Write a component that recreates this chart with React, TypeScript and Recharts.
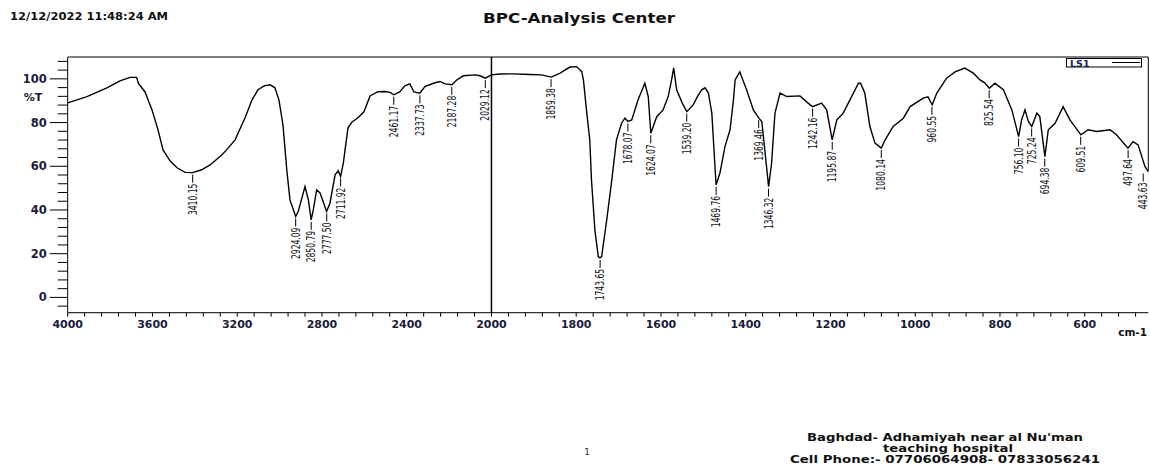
import React from 'react';
import { LineChart, Line, XAxis, YAxis, ReferenceLine, ReferenceDot } from 'recharts';

// ---- spectrum data (wavenumber cm-1, %T) ----
const wavenumbers = [
  4000, 3909, 3815, 3753, 3706, 3675, 3666, 3635, 3602, 3574, 3550, 3517, 3484, 3446, 3410, 3368, 3328, 3273, 3250,
  3210, 3163, 3130, 3102, 3073, 3045, 3022, 3003, 2984, 2974, 2966, 2951, 2924, 2912, 2880, 2864, 2851, 2841, 2825,
  2809, 2778, 2762, 2738, 2723, 2712, 2699, 2691, 2677, 2658, 2630, 2602, 2573, 2536, 2502, 2479, 2461, 2433, 2409,
  2385, 2366, 2338, 2314, 2274, 2243, 2219, 2187, 2164, 2133, 2078, 2054, 2029, 2000, 1980, 1949, 1909, 1882, 1859,
  1838, 1815, 1799, 1787, 1783, 1775, 1768, 1764, 1756, 1748, 1744, 1740, 1728, 1716, 1705, 1693, 1685, 1678, 1669,
  1654, 1638, 1630, 1624, 1610, 1595, 1583, 1575, 1570, 1563, 1550, 1539, 1524, 1513, 1504, 1496, 1488, 1480, 1473,
  1470, 1461, 1449, 1437, 1429, 1425, 1414, 1398, 1382, 1369, 1362, 1355, 1346, 1339, 1331, 1319, 1303, 1272, 1248,
  1242, 1221, 1209, 1196, 1185, 1170, 1154, 1134, 1129, 1119, 1107, 1095, 1080, 1071, 1052, 1028, 1012, 981, 970,
  960, 949, 926, 906, 883, 863, 847, 836, 825, 812, 792, 772, 756, 749, 741, 733, 725, 713, 706, 694, 686, 670, 651,
  635, 609, 592, 572, 540, 525, 498, 486, 474, 458, 450,
];
const transmittance = [
  89.0, 91.9, 95.9, 99.1, 100.7, 100.7, 97.9, 94.0, 85.8, 76.7, 67.5, 62.5, 59.3, 57.2, 57.1, 58.4, 60.6, 65.2, 67.5,
  72.1, 82.2, 90.4, 95.0, 96.8, 97.3, 95.9, 90.4, 78.9, 67.5, 58.4, 44.6, 37.0, 39.3, 50.7, 44.6, 35.5, 40.0, 49.2,
  47.8, 39.3, 43.2, 56.1, 58.0, 55.3, 61.6, 67.5, 77.6, 80.3, 82.2, 84.9, 92.2, 94.1, 94.2, 93.8, 92.7, 94.0, 96.8,
  97.7, 94.0, 93.4, 96.5, 98.0, 98.8, 97.7, 97.3, 99.5, 101.4, 101.8, 101.4, 100.3, 101.8, 102.2, 102.3, 102.0, 101.8, 100.8,
  102.6, 105.4, 105.6, 103.3, 99.5, 84.3, 72.1, 53.8, 30.9, 18.7, 18.1, 18.7, 35.5, 53.8, 72.1, 79.7, 82.0, 80.5, 81.2,
  90.4, 98.0, 91.9, 75.1, 82.7, 85.8, 91.9, 99.5, 105.0, 95.0, 89.0, 85.0, 88.1, 92.2, 95.0, 95.9, 93.5, 84.3, 61.4,
  51.5, 56.8, 69.0, 76.7, 90.4, 99.5, 103.2, 95.0, 85.8, 82.0, 80.5, 67.5, 50.7, 61.4, 84.3, 93.5, 91.9, 92.2, 88.1,
  87.3, 88.9, 85.8, 72.1, 81.2, 84.3, 90.4, 98.0, 98.0, 93.5, 78.2, 70.6, 68.3, 72.1, 78.2, 82.0, 87.3, 91.2, 91.8,
  88.1, 93.5, 100.3, 103.2, 104.9, 102.6, 99.5, 98.2, 95.7, 98.0, 95.0, 85.8, 73.6, 81.2, 85.8, 80.5, 78.2, 84.3, 82.7, 64.4, 76.7, 79.7, 87.3,
  81.2, 74.4, 76.7, 75.9, 76.7, 74.4, 68.3, 71.3, 69.8, 59.9, 57.6,
];

// ---- peak annotations ----
const peakWavenumbers = [
  3410.15, 2924.09, 2850.79, 2777.5, 2711.92, 2461.17, 2337.73, 2187.28, 2029.12, 1859.38, 1743.65, 1678.07, 1624.07,
  1539.2, 1469.76, 1369.46, 1346.32, 1242.16, 1195.87, 1080.14, 960.55, 825.54, 756.1, 725.24, 694.38, 609.51, 497.64,
  443.63,
];
const peakTransmittance = [
  57.1, 37.0, 35.5, 39.3, 55.3, 92.7, 93.4, 97.3, 100.3, 100.8, 18.1, 80.5, 75.1, 85.0, 51.5, 82.0, 50.7, 87.3, 72.1,
  68.3, 88.1, 95.7, 73.6, 78.2, 64.4, 74.4, 68.3, 57.6,
];
const peakLabels = [
  '3410.15', '2924.09', '2850.79', '2777.50', '2711.92', '2461.17', '2337.73', '2187.28', '2029.12', '1859.38',
  '1743.65', '1678.07', '1624.07', '1539.20', '1469.76', '1369.46', '1346.32', '1242.16', '1195.87', '1080.14',
  '960.55', '825.54', '756.10', '725.24', '694.38', '609.51', '497.64', '443.63',
];

// ---- axes ----
const xMajorTicks = [4000, 3600, 3200, 2800, 2400, 2000, 1800, 1600, 1400, 1200, 1000, 800, 600];
const yMajorTicks = [0, 20, 40, 60, 80, 100];
const X_START = 4000;
const X_BREAK = 2000;
const X_END = 450;
const Y_MIN = -7;
const Y_MAX = 110;

// piecewise scale: 4000-2000 is compressed 2:1 relative to 2000-450
const toAxis = (w: number) => (w >= X_BREAK ? (X_START - w) / 2 : (X_START - X_BREAK) / 2 + (X_BREAK - w));
const fromAxis = (p: number) => (p <= (X_START - X_BREAK) / 2 ? X_START - 2 * p : X_BREAK - (p - (X_START - X_BREAK) / 2));

const xTickWavenumbers: number[] = [];
for (let w = X_START; w >= X_BREAK; w -= 80) xTickWavenumbers.push(w);
for (let w = X_BREAK - 40; w > X_END; w -= 40) xTickWavenumbers.push(w);
const xTickPositions = xTickWavenumbers.map(toAxis);

const yTicks: number[] = [];
for (let v = -4; v <= 108; v += 4) yTicks.push(v);

const data = wavenumbers.map((w, i) => ({ pos: toAxis(w), t: transmittance[i] }));

const AXIS_FONT = "'DejaVu Sans', sans-serif";
const AXIS_COLOR = '#1b1b3a';
const NARROW_FONT = "'Liberation Sans Narrow', 'DejaVu Sans Condensed', 'Liberation Sans', sans-serif";

const XTick = (props: any) => {
  const { x, y, payload } = props;
  const w = Math.round(fromAxis(payload.value));
  const major = xMajorTicks.includes(w);
  return (
    <g>
      <line x1={x} x2={x} y1={y} y2={y + 4} stroke="#000" strokeWidth={1} />
      {major && (
        <text x={x} y={y + 11.5} textAnchor="middle" dominantBaseline="central" fontFamily={AXIS_FONT}
          fontWeight="bold" fontSize={11} fill={AXIS_COLOR}>
          {w}
        </text>
      )}
    </g>
  );
};

const YTick = (props: any) => {
  const { x, y, payload } = props;
  const v = payload.value;
  const major = yMajorTicks.includes(v);
  return (
    <g>
      <line x1={x - (major ? 18 : 10)} x2={x} y1={y} y2={y} stroke="#000" strokeWidth={1} />
      {major && (
        <text x={x - 21} y={y} textAnchor="end" dominantBaseline="central" fontFamily={AXIS_FONT}
          fontWeight="bold" fontSize={11.5} fill={AXIS_COLOR}>
          {v}
        </text>
      )}
    </g>
  );
};

const PeakLabel = (props: any) => {
  const { cx, cy, label } = props;
  const len = (label.length - 1) * 4.85 + 2.4;
  return (
    <g>
      <line x1={cx} x2={cx} y1={cy + 2} y2={cy + 10} stroke="#000" strokeWidth={1} />
      <text transform={`translate(${cx},${cy + 11}) rotate(-90)`} textAnchor="end" dy="0.36em"
        fontFamily={NARROW_FONT} fontSize={11.5} fill="#101020" textLength={len} lengthAdjust="spacingAndGlyphs">
        {label}
      </text>
    </g>
  );
};

export default function App() {
  const endT = transmittance[transmittance.length - 1];
  return (
    <div style={{ position: 'absolute', left: 0, top: 0, width: 1150, height: 466, overflow: 'hidden', background: '#fff' }}>
      <div style={{ position: 'absolute', left: 0, top: 0 }}>
        <LineChart width={1150} height={466} data={data} margin={{ top: 57, right: 1.7, bottom: 113.3, left: 0 }}>
          <XAxis dataKey="pos" type="number" domain={[0, toAxis(X_END)]} ticks={xTickPositions} interval={0}
            tick={<XTick />} tickLine={false} tickSize={0} tickMargin={0} height={40} allowDataOverflow
            axisLine={{ stroke: '#000', strokeWidth: 1 }} />
          <YAxis type="number" domain={[Y_MIN, Y_MAX]} ticks={yTicks} interval={0} tick={<YTick />}
            tickLine={false} tickSize={0} tickMargin={0} width={67.7} allowDataOverflow
            axisLine={{ stroke: '#000', strokeWidth: 1 }} />
          <ReferenceLine y={Y_MAX} stroke="#000" strokeWidth={1} />
          <ReferenceLine x={toAxis(X_BREAK)} stroke="#000" strokeWidth={1.5} />
          <ReferenceLine segment={[{ x: toAxis(X_END), y: endT }, { x: toAxis(X_END), y: Y_MAX }]} stroke="#000" strokeWidth={1} />
          <Line type="linear" dataKey="t" name="LS1" stroke="#000" strokeWidth={1.4} dot={false} isAnimationActive={false} />
          {peakWavenumbers.map((w, i) => (
            <ReferenceDot key={peakLabels[i]} x={toAxis(Math.max(w, X_END + 12))} y={peakTransmittance[i]} r={0}
              ifOverflow="visible" shape={(p: any) => <PeakLabel {...p} label={peakLabels[i]} />} />
          ))}
        </LineChart>
      </div>
      <svg width={1150} height={466} style={{ position: 'absolute', left: 0, top: 0, pointerEvents: 'none' }}>
        <text x={10} y={20} fontFamily={AXIS_FONT} fontWeight="bold" fontSize={11} fill="#111" textLength={158}
          lengthAdjust="spacingAndGlyphs">12/12/2022 11:48:24 AM</text>
        <text x={579} y={23} textAnchor="middle" fontFamily={AXIS_FONT} fontWeight="bold" fontSize={13.5} fill="#111"
          textLength={192} lengthAdjust="spacingAndGlyphs">BPC-Analysis Center</text>
        <text x={33} y={97} textAnchor="middle" dominantBaseline="central" fontFamily={AXIS_FONT} fontWeight="bold"
          fontSize={11} fill={AXIS_COLOR}>%T</text>
        <text x={1147} y={332} textAnchor="end" dominantBaseline="central" fontFamily={AXIS_FONT} fontWeight="bold"
          fontSize={10.5} fill="#111">cm-1</text>
        <rect x={1066.5} y={58.5} width={75} height={8.5} fill="#fff" stroke="#000" strokeWidth={1} />
        <text x={1070} y={63} dominantBaseline="central" fontFamily={AXIS_FONT} fontWeight="bold" fontSize={9.5}
          fill="#1b1b5a">LS1</text>
        <line x1={1112} x2={1140} y1={62.5} y2={62.5} stroke="#000" strokeWidth={1} />
        <text x={945} y={441} textAnchor="middle" fontFamily={AXIS_FONT} fontWeight="bold" fontSize={11} fill="#111"
          textLength={276} lengthAdjust="spacingAndGlyphs">Baghdad- Adhamiyah near al Nu'man</text>
        <text x={948} y={452} textAnchor="middle" fontFamily={AXIS_FONT} fontWeight="bold" fontSize={11} fill="#111"
          textLength={130} lengthAdjust="spacingAndGlyphs">teaching hospital</text>
        <text x={945} y={463} textAnchor="middle" fontFamily={AXIS_FONT} fontWeight="bold" fontSize={11} fill="#111"
          textLength={310} lengthAdjust="spacingAndGlyphs">Cell Phone:- 07706064908- 07833056241</text>
        <text x={587} y={455} textAnchor="middle" fontFamily={AXIS_FONT} fontSize={8} fill="#111">1</text>
      </svg>
    </div>
  );
}
